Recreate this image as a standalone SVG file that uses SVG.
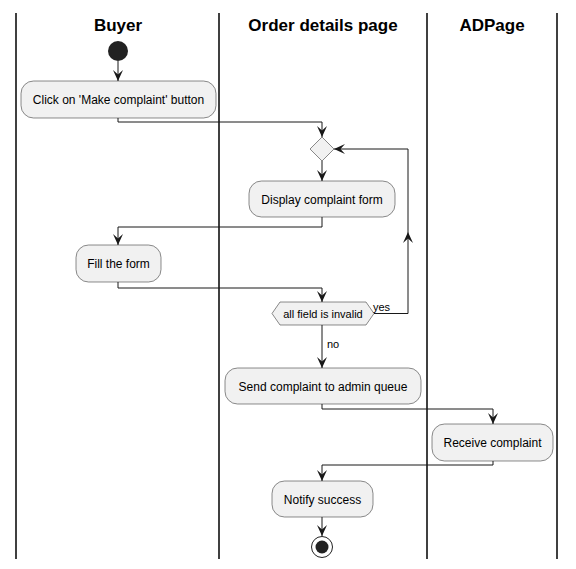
<svg xmlns="http://www.w3.org/2000/svg" width="576" height="569" viewBox="0 0 576 569">
<defs>
<marker id="ah" viewBox="0 0 11 10" refX="11" refY="5" markerWidth="11" markerHeight="10" markerUnits="userSpaceOnUse" orient="auto">
<path d="M0,0 L11,5 L0,10 L4.5,5 Z" fill="#181818"/>
</marker>
<style>
.lane{stroke:#000;stroke-width:1.5}
.hdr{font-family:"Liberation Sans",Arial,sans-serif;font-size:17px;font-weight:bold;text-anchor:middle;fill:#000}
.act{fill:#F1F1F1;stroke:#181818;stroke-width:0.5}
.t{font-family:"Liberation Sans",Arial,sans-serif;font-size:12px;text-anchor:middle;fill:#000}
.lbl{font-family:"Liberation Sans",Arial,sans-serif;font-size:11px;fill:#000}
.c{fill:none;stroke:#181818;stroke-width:1;marker-end:url(#ah)}
</style>
</defs>
<rect width="576" height="569" fill="#fff"/>
<g id="lanes">
<line class="lane" x1="16" y1="13" x2="16" y2="559"/>
<line class="lane" x1="219" y1="13" x2="219" y2="559"/>
<line class="lane" x1="427" y1="13" x2="427" y2="559"/>
<line class="lane" x1="557" y1="13" x2="557" y2="559"/>
<text class="hdr" x="118" y="31">Buyer</text>
<text class="hdr" x="323" y="31">Order details page</text>
<text class="hdr" x="492" y="31">ADPage</text>
</g>
<g id="start"><circle cx="118" cy="51" r="10" fill="#222"/></g>
<g id="click"><rect class="act" x="21" y="81" width="195" height="37" rx="12.5"/><text class="t" x="118.5" y="104">Click on 'Make complaint' button</text></g>
<g id="merge"><polygon class="act" points="322,137 334,149 322,161 310,149"/></g>
<g id="display"><rect class="act" x="249" y="181" width="146" height="36" rx="12.5"/><text class="t" x="322" y="204">Display complaint form</text></g>
<g id="fill"><rect class="act" x="76" y="245" width="85" height="37" rx="12.5"/><text class="t" x="118.5" y="268">Fill the form</text></g>
<g id="check"><polygon class="act" points="272,313.5 280,302 366,302 374,313.5 366,325 280,325"/><text class="lbl" x="323" y="318" text-anchor="middle">all field is invalid</text></g>
<g id="send"><rect class="act" x="225" y="368" width="196" height="36" rx="12.5"/><text class="t" x="323" y="391">Send complaint to admin queue</text></g>
<g id="receive"><rect class="act" x="432" y="424" width="121" height="37" rx="12.5"/><text class="t" x="492.5" y="447">Receive complaint</text></g>
<g id="notify"><rect class="act" x="272" y="481" width="101" height="36" rx="12.5"/><text class="t" x="322.5" y="504">Notify success</text></g>
<g id="end"><circle cx="322" cy="547" r="10.5" fill="none" stroke="#222" stroke-width="1"/><circle cx="322" cy="547" r="6.5" fill="#222"/></g>
<g id="connectors">
<path class="c" d="M118,61 L118,81"/>
<path class="c" d="M118,118 L118,122 L322,122 L322,137"/>
<path class="c" d="M322,161 L322,181"/>
<path class="c" d="M322,217 L322,227 L118,227 L118,245"/>
<path class="c" d="M118,282 L118,288 L322,288 L322,302"/>
<path class="c" d="M374,313.5 L408,313.5 L408,232"/>
<path class="c" d="M408,232 L408,149 L334,149"/>
<path class="c" d="M322,325 L322,368"/>
<path class="c" d="M322,404 L322,409 L493,409 L493,424"/>
<path class="c" d="M493,461 L493,465 L322,465 L322,481"/>
<path class="c" d="M322,517 L322,536"/>
<text class="lbl" x="373" y="311">yes</text>
<text class="lbl" x="327" y="348">no</text>
</g>
</svg>
